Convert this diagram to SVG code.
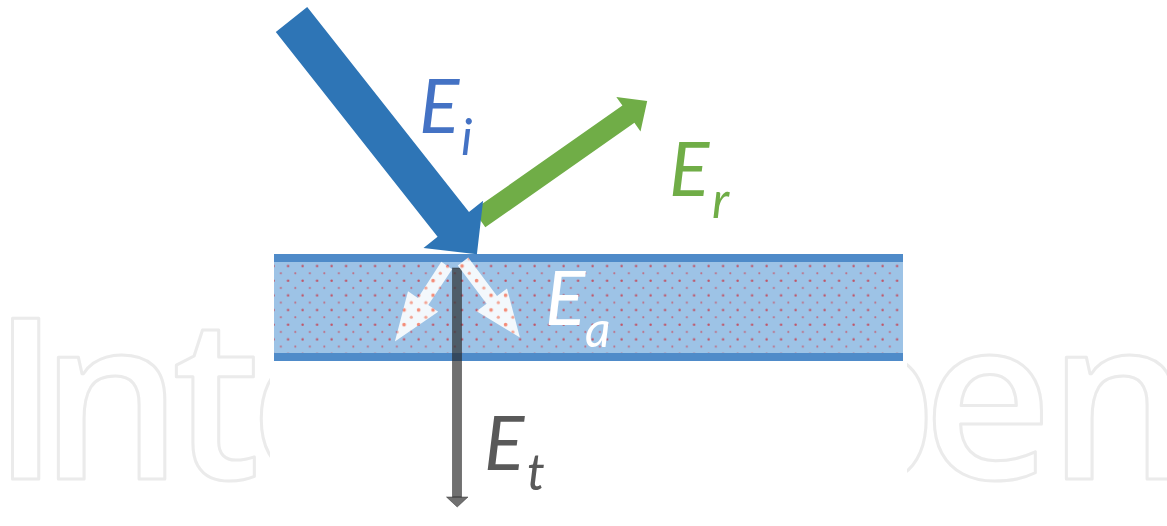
<svg xmlns="http://www.w3.org/2000/svg" width="1167" height="526" viewBox="0 0 1167 526">
  <style>
    .wm { font-family: "Open Sans", "Liberation Sans", sans-serif; font-weight: 600; font-size: 224px; fill: none; stroke: #ebebeb; stroke-width: 3; stroke-linejoin: round; }
    .lbl { font-family: Lato, "Open Sans", "Liberation Sans", sans-serif; font-style: italic; font-size: 75px; }
    .sub { font-size: 50px; }
  </style>
  <defs>
    <clipPath id="wmClip">
      <rect x="0" y="0" width="270" height="526"/>
      <rect x="907" y="0" width="260" height="526"/>
    </clipPath>
    <pattern id="dots" patternUnits="userSpaceOnUse" x="270" y="262.4" width="14.5" height="14.66">
      <circle cx="3.6" cy="3.6" r="1.25" fill="#c4485a" opacity="0.9"/>
      <circle cx="10.85" cy="10.93" r="1.05" fill="#c85466" opacity="0.75"/>
    </pattern>
    <pattern id="dotsHot" patternUnits="userSpaceOnUse" x="270" y="262.4" width="14.5" height="14.66">
      <circle cx="3.6" cy="3.6" r="1.8" fill="#f26a4e" opacity="0.75"/>
      <circle cx="10.85" cy="10.93" r="1.6" fill="#f27a5e" opacity="0.65"/>
    </pattern>
  </defs>

  <rect width="1167" height="526" fill="#ffffff"/>

  <!-- watermark -->
  <g id="watermark" clip-path="url(#wmClip)">
    <text class="wm" y="478.5"><tspan x="-8.5">I</tspan><tspan x="40">n</tspan><tspan x="172">t</tspan><tspan x="250">e</tspan></text>
    <text class="wm" y="478.5"><tspan x="798">p</tspan><tspan x="923">e</tspan><tspan x="1048">n</tspan></text>
  </g>

  <!-- medium layer -->
  <g id="medium">
    <rect x="274" y="254" width="629" height="107" fill="#9dc3e6"/>
    <rect x="274" y="254" width="629" height="107" fill="url(#dots)"/>
    <rect x="274" y="254" width="629" height="8" fill="#4f8bc9"/>
    <rect x="274" y="353" width="629" height="8" fill="#4f8bc9"/>
  </g>

  <g id="connectors">
    <!-- transmitted -->
    <g id="transmitted" fill="#262626" fill-opacity="0.66" stroke="#262626" stroke-opacity="0.45" stroke-width="1">
      <rect x="452.5" y="268" width="9" height="229"/>
      <polygon points="446.5,497 468,497 457.2,507"/>
    </g>

    <!-- absorbed -->
    <g id="absorbed">
      <polygon points="441.3,261.8 452.1,269.2 428.3,305.0 438.2,311.7 394.9,341.6 408.0,291.3 417.9,298.0" fill="#ffffff" fill-opacity="0.88"/>
      <polygon points="441.3,261.8 452.1,269.2 428.3,305.0 438.2,311.7 394.9,341.6 408.0,291.3 417.9,298.0" fill="url(#dotsHot)"/>
      <polygon points="468.2,257.6 497.0,296.0 507.0,288.5 519.9,337.6 476.6,311.3 486.6,303.8 457.8,265.4" fill="#ffffff" fill-opacity="0.88"/>
      <polygon points="468.2,257.6 497.0,296.0 507.0,288.5 519.9,337.6 476.6,311.3 486.6,303.8 457.8,265.4" fill="url(#dotsHot)"/>
    </g>

    <!-- reflected -->
    <polygon id="reflected" points="473.3,210.1 622.4,105.6 616.3,97.0 647.2,101.0 640.5,131.4 634.4,122.8 485.3,227.3" fill="#70ad47"/>

    <!-- incident -->
    <polygon id="incident" points="307.2,7.1 469.0,212.0 483.1,200.8 476.9,254.2 423.5,248.0 437.6,236.8 275.8,31.9" fill="#2e75b6"/>
  </g>

  <!-- labels -->
  <g id="label-Ei">
    <text class="lbl" fill="#4472c4"><tspan x="419" y="133">E</tspan><tspan class="sub" x="461" y="155">i</tspan></text>
  </g>
  <g id="label-Er">
    <text class="lbl" fill="#70ad47"><tspan x="669" y="196">E</tspan><tspan class="sub" x="712" y="218">r</tspan></text>
  </g>
  <g id="label-Ea">
    <text class="lbl" fill="#ffffff"><tspan x="545" y="325">E</tspan><tspan class="sub" x="585" y="347">a</tspan></text>
  </g>
  <g id="label-Et">
    <text class="lbl" fill="#595959"><tspan x="484" y="470">E</tspan><tspan class="sub" x="527" y="490">t</tspan></text>
  </g>
</svg>
